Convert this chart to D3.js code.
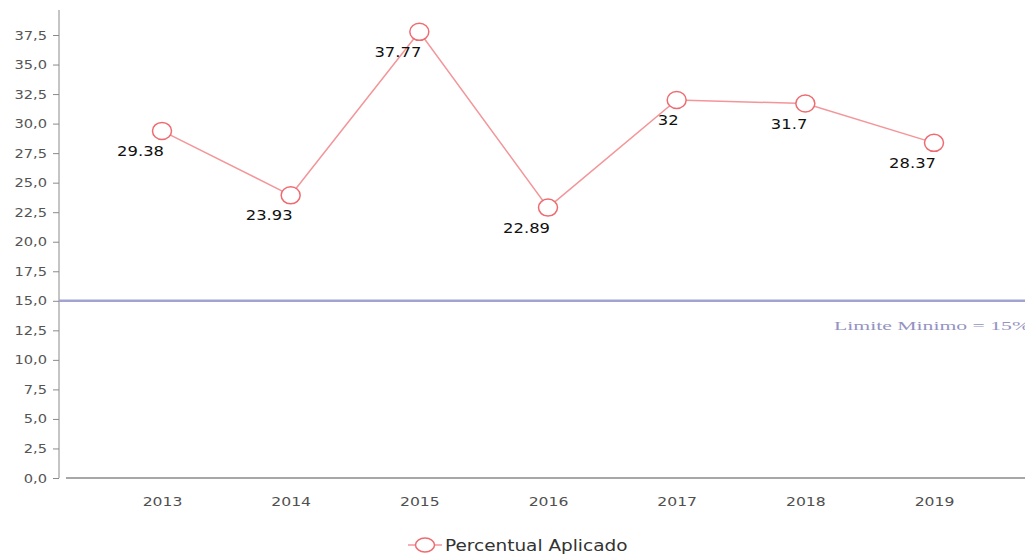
<!DOCTYPE html>
<html>
<head>
<meta charset="utf-8">
<script src="https://cdn.jsdelivr.net/npm/d3@7"></script>
<style>
  html, body { margin: 0; padding: 0; background: #fff; }
  svg { display: block; }
</style>
</head>
<body>
<svg id="chart" width="1025" height="558"></svg>
<script>
// Percentual aplicado por ano
const years = ["2013", "2014", "2015", "2016", "2017", "2018", "2019"];
const percentual = [29.38, 23.93, 37.77, 22.89, 32, 31.7, 28.37];
const limiteMinimo = 15;
const limiteLabel = "Limite Minimo = 15%";
const seriesName = "Percentual Aplicado";
const yTicks = [0, 2.5, 5, 7.5, 10, 12.5, 15, 17.5, 20, 22.5, 25, 27.5, 30, 32.5, 35, 37.5];

const svg = d3.select("#chart");
const W = 1025;
const SANS = "'DejaVu Sans', Verdana, sans-serif";

// widen glyphs horizontally (the chart's lettering is set wide)
function stretch(sel, k) {
  sel.each(function () {
    const w = this.getComputedTextLength();
    d3.select(this).attr("textLength", w * k).attr("lengthAdjust", "spacingAndGlyphs");
  });
}

const y = d3.scaleLinear().domain([0, 37.5]).range([478, 35]);
const x = d3.scalePoint().domain(years).range([162, 934]);

const fmt = v => d3.format(".1f")(v).replace(".", ",");

// y axis
const yAxis = svg.append("g")
  .attr("transform", "translate(59,0)")
  .call(d3.axisLeft(y).tickValues(yTicks).tickFormat(fmt).tickSize(6).tickSizeOuter(0));
yAxis.select(".domain").attr("stroke", "#8a8a8a").attr("d", "M0,10V478");
yAxis.selectAll(".tick line").attr("stroke", "#8a8a8a");
yAxis.selectAll(".tick text")
  .attr("x", -12)
  .attr("fill", "#555")
  .style("font-family", SANS)
  .style("font-size", "12.5px")
  .call(stretch, 1.17);

// x axis
const xAxis = svg.append("g")
  .attr("transform", "translate(0,478)")
  .call(d3.axisBottom(x).tickSize(0).tickPadding(19));
xAxis.select(".domain").attr("stroke", "#8a8a8a").attr("stroke-width", 1.5).attr("d", `M66,0H${W}`);
xAxis.selectAll(".tick text")
  .attr("fill", "#505050")
  .style("font-family", SANS)
  .style("font-size", "12.5px")
  .call(stretch, 1.25);

// minimum limit line
svg.append("line")
  .attr("x1", 59).attr("x2", W)
  .attr("y1", y(limiteMinimo)).attr("y2", y(limiteMinimo))
  .attr("stroke", "#a3a3d3").attr("stroke-width", 2.5);
svg.append("text")
  .attr("x", 834).attr("y", y(limiteMinimo) + 29)
  .attr("fill", "#9494c2")
  .style("font-family", "'Liberation Serif', 'Times New Roman', serif")
  .style("font-size", "13px")
  .attr("textLength", 196).attr("lengthAdjust", "spacingAndGlyphs")
  .text(limiteLabel);

// series line
const data = years.map((yr, i) => ({ yr, v: percentual[i] }));
svg.append("path")
  .datum(data)
  .attr("fill", "none")
  .attr("stroke", "#f3969a")
  .attr("stroke-width", 1.5)
  .attr("d", d3.line().x(d => x(d.yr)).y(d => y(d.v)));

svg.selectAll("ellipse.pt")
  .data(data)
  .join("ellipse")
  .attr("class", "pt")
  .attr("cx", d => x(d.yr))
  .attr("cy", d => y(d.v))
  .attr("rx", 9.5)
  .attr("ry", 8.5)
  .attr("fill", "#fff")
  .attr("stroke", "#ee6b72")
  .attr("stroke-width", 1.5);

svg.selectAll("text.val")
  .data(data)
  .join("text")
  .attr("class", "val")
  .attr("x", d => x(d.yr) + 2)
  .attr("y", d => y(d.v) + 25)
  .attr("text-anchor", "end")
  .attr("fill", "#111")
  .style("font-family", SANS)
  .style("font-size", "14px")
  .text(d => String(d.v))
  .call(stretch, 1.17);

// legend
const lg = svg.append("g").attr("transform", "translate(425,545)");
lg.append("line").attr("x1", -17).attr("x2", 17).attr("stroke", "#f3969a").attr("stroke-width", 1.5);
lg.append("ellipse").attr("rx", 9.5).attr("ry", 7).attr("fill", "#fff").attr("stroke", "#ee6b72").attr("stroke-width", 1.5);
lg.append("text")
  .attr("x", 20).attr("y", 6)
  .attr("fill", "#333")
  .style("font-family", SANS)
  .style("font-size", "15px")
  .text(seriesName)
  .call(stretch, 1.23);
</script>
</body>
</html>
